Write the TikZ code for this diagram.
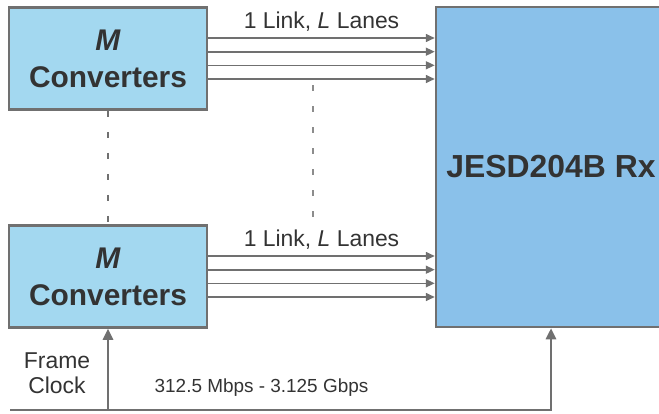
\documentclass[tikz,border=0pt]{standalone}
\usepackage{fontspec}
\setmainfont{Liberation Sans}
\usetikzlibrary{arrows.meta,positioning}
\definecolor{convblue}{HTML}{A3D8F0}
\definecolor{rxblue}{HTML}{8AC1EA}
\definecolor{edgegray}{HTML}{707070}
\definecolor{dotgray}{HTML}{8C8C8C}
\definecolor{textgray}{HTML}{333333}

\begin{document}
\begin{tikzpicture}
	[x=1bp,y=1bp,
	block/.style={draw=edgegray,line width=2.5bp,inner sep=0pt,text=textgray,align=center},
	conv/.style={block,fill=convblue,minimum width=198bp,minimum height=102bp,font=\bfseries\fontsize{30}{37}\selectfont},
	lane/.style={draw=edgegray,line width=1.6bp,-{Triangle[length=9bp,width=8bp]}},
	clock/.style={draw=edgegray,line width=2.5bp,-{Triangle[length=11bp,width=10bp]}},
	dots/.style={line width=2.5bp,dash pattern=on 6bp off 15bp},
	lbl/.style={text=textgray,inner sep=0pt,font=\fontsize{23}{25}\selectfont}
	]
	\clip (0,0) rectangle (659,413);

	% blocks
	\node [conv] (conv1) at (108,354.5) {\textit{M}\\Converters};
	\node [conv] (conv2) at (108,136.5) {\textit{M}\\Converters};
	\node [block,fill=rxblue,minimum width=230bp,minimum height=320bp,
		font=\bfseries\fontsize{32}{36}\selectfont] (rx) at (551,246) {JESD204B Rx};

	% lanes
	\foreach \c in {conv1,conv2}
	\foreach \dy in {-20.5,-6.8,6.8,20.5} {
		\path (\c.east) ++(0,\dy) coordinate (s);
		\draw [lane] (s) -- (s -| rx.west);
	}
	\node [lbl] (lnk1) at (321.5,391) {1 Link, \textit{L} Lanes};
	\node [lbl] (lnk2) at (321.5,173) {1 Link, \textit{L} Lanes};

	% dotted
	\coordinate (d1) at (313,328);
	\coordinate (d2) at (313,193);
	\draw [dots,draw=edgegray] (conv1.south) -- (conv2.north);
	\draw [dots,draw=dotgray,line width=2bp] (d1) -- (d2);

	% clock
	\coordinate (clk) at (10,3);
	\draw [clock] (clk) -| (rx.south);
	\draw [clock] (clk -| conv2.south) -- (conv2.south);
	\node [lbl,align=center] (frm) at (57,40) {Frame\\Clock};
	\node [lbl,font=\fontsize{19}{24}\selectfont] (rate) at (261.5,25) {312.5 Mbps - 3.125 Gbps};
\end{tikzpicture}
\end{document}
